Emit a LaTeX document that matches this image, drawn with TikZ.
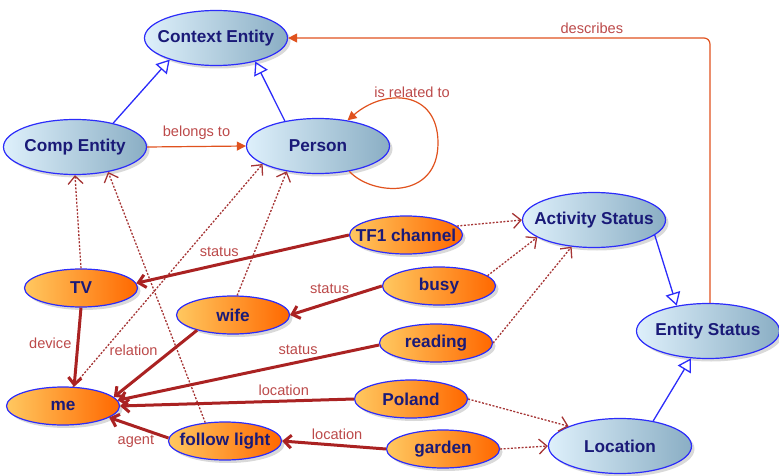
\documentclass[tikz,border=0pt]{standalone}
\usepackage{fontspec}
\setmainfont{Liberation Sans}
\usetikzlibrary{arrows.meta,shapes.geometric,shadows}
\definecolor{clsline}{RGB}{44,44,250}
\definecolor{clsleft}{RGB}{222,240,251}
\definecolor{clsright}{RGB}{138,174,196}
\definecolor{instleft}{RGB}{255,200,96}
\definecolor{instright}{RGB}{255,104,0}
\definecolor{navy}{RGB}{26,26,120}
\definecolor{relred}{RGB}{170,34,34}
\definecolor{dotred}{RGB}{165,52,52}
\definecolor{orred}{RGB}{224,82,30}
\definecolor{lblred}{RGB}{188,74,74}

\begin{document}
\begin{tikzpicture}[x=1pt,y=-1pt,
  cls/.style={ellipse,draw=clsline,line width=1.2pt,left color=clsleft,right color=clsright,
    minimum width=143pt,minimum height=55pt,inner xsep=-20pt,inner ysep=0pt,text=navy,
    font=\fontsize{17.2}{19}\selectfont\bfseries,
    drop shadow={shadow xshift=3pt,shadow yshift=-3pt,opacity=0.3}},
  inst/.style={cls,left color=instleft,right color=instright,minimum width=113pt,minimum height=38pt},
  isa/.style={draw=clsline,line width=1.3pt,-{Triangle[open,length=13pt,width=15pt,fill=white]}},
  typ/.style={draw=dotred,line width=1.3pt,dash pattern=on 2pt off 1.6pt,-{Straight Barb[length=8pt,width=15pt]}},
  rel/.style={draw=relred,line width=3pt,-{Straight Barb[length=7pt,width=13pt]}},
  obj/.style={draw=orred,line width=1.2pt,-{Triangle[length=9pt,width=9pt]}},
  lbl/.style={text=lblred,font=\fontsize{14.6}{16}\selectfont,inner sep=1pt}]
\useasboundingbox (0,0) rectangle (779,476);

% classes
\node[cls] (context) at (216,38) {Context Entity};
\node[cls] (comp) at (75,147) {Comp Entity};
\node[cls] (person) at (318,146) {Person};
\node[cls] (activity) at (594,220) {Activity Status};
\node[cls] (estatus) at (708,331) {Entity Status};
\node[cls] (location) at (620,446) {Location};

% instances
\node[inst] (tf1) at (406,235) {TF1 channel};
\node[inst] (tv) at (81,288) {TV};
\node[inst] (busy) at (439,286) {busy};
\node[inst] (wife) at (233,315) {wife};
\node[inst] (reading) at (436,343) {reading};
\node[inst] (me) at (63,406) {me};
\node[inst] (poland) at (411,399) {Poland};
\node[inst] (follow) at (225,441) {follow light};
\node[inst] (garden) at (443,449) {garden};

% subclass links
\draw[isa] (comp.32) -- (context.205);
\draw[isa] (person.143) -- (context.-31);
\draw[isa] (activity.-14) -- (estatus.141);
\draw[isa] (location.37) -- (estatus.238);

% class level properties
\draw[obj] (comp.east) -- (person.west) node[lbl,midway,above=5pt] {belongs to};
\draw[obj] (person.-39) .. controls (372,196) and (438,200) .. (438,143)
  .. controls (438,90) and (385,88) .. (person.41) node[lbl,pos=0.45,above=2pt] {is related to};
\draw[obj,rounded corners=6pt] (estatus.86) |- (context.east) node[lbl,pos=0.64,above=3pt] {describes};

% types
\draw[typ] (tv.north) -- (comp.south);
\draw[typ] (follow.137) -- (comp.-37);
\draw[typ] (me.63) -- (person.198);
\draw[typ] (wife.78) -- (person.219);
\draw[typ] (tf1.10) -- (activity.west);
\draw[typ] (busy.12) -- (activity.197);
\draw[typ] (reading.east) -- (activity.230);
\draw[typ] (poland.east) -- (location.159);
\draw[typ] (garden.east) -- (location.west);

% instance properties
\draw[rel] (tf1.west) -- (tv.5) node[lbl,pos=0.61,above=5pt] {status};
\draw[rel] (busy.west) -- (wife.east) node[lbl,pos=0.57,above=6pt] {status};
\draw[rel] (tv.south) -- (me.60) node[lbl,pos=0.45,left=4pt] {device};
\draw[rel] (wife.203) -- (me.10) node[lbl,pos=0.3,left=12pt] {relation};
\draw[rel] (reading.182) -- (me.6) node[lbl,pos=0.31,above=5pt] {status};
\draw[rel] (poland.west) -- (me.east) node[lbl,pos=0.3,above=3pt] {location};
\draw[rel] (follow.177) -- (me.-14) node[lbl,pos=0.55,below=6pt] {agent};
\draw[rel] (garden.west) -- (follow.east) node[lbl,pos=0.47,above=3pt] {location};
\end{tikzpicture}
\end{document}
